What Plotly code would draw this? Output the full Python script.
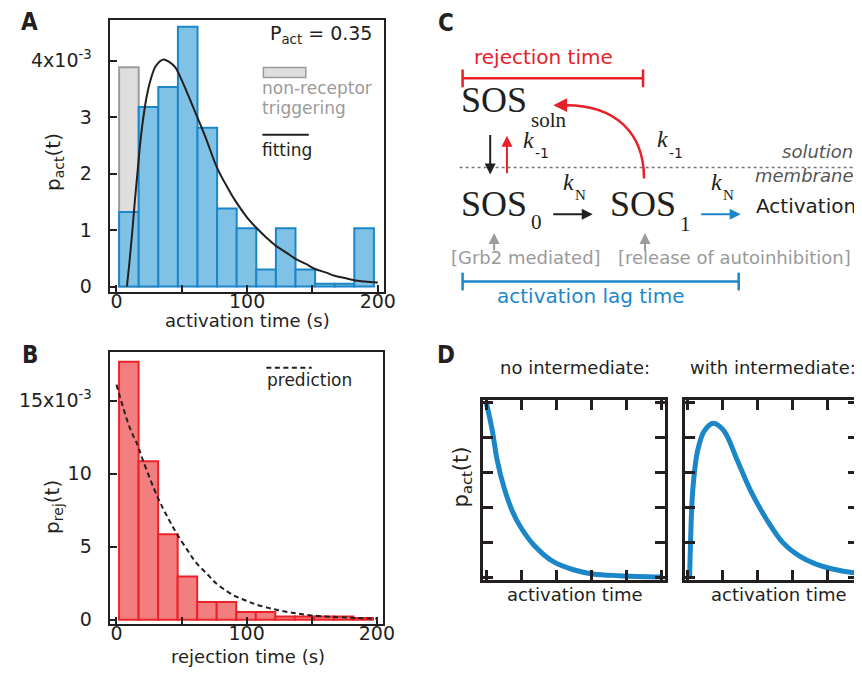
import plotly.graph_objects as go

W, H = 862, 673

# ---------------- data ----------------
# Panel A: activation time histogram (values in units of 1e-3)
bin_width = 15
act_bin_left = [2, 17, 32, 47, 62, 77, 92, 107, 122, 137, 152, 167, 182]
act_density = [1.32, 3.18, 3.53, 4.60, 2.81, 1.38, 1.03, 0.30, 1.03, 0.30, 0.05, 0.05, 1.03]
nonrec_bin_left = [2, 17]
nonrec_density = [3.88, 0.0]
fit_t = [8, 10, 12, 14, 16, 18, 20, 23, 26, 30, 36, 40, 45, 50, 55, 60, 68, 77, 85, 92,
         100, 107, 115, 122, 130, 137, 145, 152, 160, 167, 175, 182, 190, 200]
fit_p = [0.0, 0.45, 0.95, 1.5, 2.0, 2.5, 2.9, 3.35, 3.65, 3.9, 4.02, 3.98, 3.88, 3.65, 3.38,
         3.1, 2.65, 2.1, 1.75, 1.48, 1.22, 1.04, 0.86, 0.72, 0.6, 0.49, 0.4, 0.31, 0.25,
         0.19, 0.15, 0.11, 0.09, 0.07]
a_xticks = [0, 50, 100, 150, 200]
a_xticktext = ["0", "", "100", "", "200"]
a_yticks = [0, 1, 2, 3, 4]
a_yticktext = ["0", "1", "2", "3", "4x10<sup>-3</sup>"]

# Panel B: rejection time histogram (values in units of 1e-3)
rej_bin_left = [2, 17, 32, 47, 62, 77, 92, 107, 122, 137, 152, 167, 182]
rej_density = [17.66, 10.86, 5.86, 2.97, 1.22, 1.22, 0.54, 0.54, 0.22, 0.22, 0.22, 0.22, 0.12]
pred_t = [0, 10, 16.5, 20, 31.6, 40, 46.3, 55, 61.3, 70, 76.5, 85, 91.6, 100, 106.8, 121,
          135, 150, 170, 185, 200]
pred_p = [16.1, 13.2, 11.9, 11.0, 8.4, 6.9, 5.9, 4.7, 3.9, 3.1, 2.5, 1.95, 1.6, 1.3, 1.06,
          0.72, 0.48, 0.3, 0.18, 0.12, 0.08]
b_xticks = [0, 50, 100, 150, 200]
b_xticktext = ["0", "", "100", "", "200"]
b_yticks = [0, 5, 10, 15]
b_yticktext = ["0", "5", "10", "15x10<sup>-3</sup>"]

# Panel D: schematic distributions
noint_t = [0, 0.17, 0.31, 0.5, 0.73, 0.97, 1.35, 1.91, 2.48, 3.04, 3.79, 5.0]
noint_p = [5.0, 4.19, 3.34, 2.58, 1.92, 1.45, 0.93, 0.45, 0.22, 0.10, 0.05, 0.01]
withint_t = [0.05, 0.07, 0.14, 0.28, 0.47, 0.73, 1.03, 1.41, 1.78, 2.25, 2.72, 3.19, 3.66,
             4.13, 4.84, 5.0]
withint_p = [0.0, 0.8, 2.51, 3.64, 4.2, 4.42, 4.2, 3.36, 2.51, 1.66, 0.99, 0.61, 0.38,
             0.24, 0.12, 0.11]

# ---------------- styles ----------------
SANS = "DejaVu Sans"
SERIF = "Liberation Serif"
INK = "#231f20"
BLUE_FILL = "#7fc2e5"
BLUE_LINE = "#1d86c8"
BLUE = "#1b87c9"
RED_FILL = "#f27e80"
RED_LINE = "#ec2229"
RED = "#e8202a"
GRAY_FILL = "#dedede"
GRAY_LINE = "#9c9c9c"
GRAY_TXT = "#9a9a9a"
DASH = "5px,3.5px"


def px(x):
    return x / W


def py(y):
    return 1 - y / H


fig = go.Figure()

# Panel A traces
fig.add_trace(go.Bar(x=[l + bin_width / 2 for l in nonrec_bin_left], y=nonrec_density,
                     width=bin_width, marker=dict(color=GRAY_FILL, line=dict(color=GRAY_LINE, width=2)),
                     xaxis="x", yaxis="y", showlegend=False))
fig.add_trace(go.Bar(x=[l + bin_width / 2 for l in act_bin_left], y=act_density,
                     width=bin_width, marker=dict(color=BLUE_FILL, line=dict(color=BLUE_LINE, width=2)),
                     xaxis="x", yaxis="y", showlegend=False))
fig.add_trace(go.Scatter(x=fit_t, y=fit_p, mode="lines", line=dict(color=INK, width=2, shape="spline"),
                         xaxis="x", yaxis="y", showlegend=False))

# Panel B traces
fig.add_trace(go.Bar(x=[l + bin_width / 2 for l in rej_bin_left], y=rej_density,
                     width=bin_width, marker=dict(color=RED_FILL, line=dict(color=RED_LINE, width=2)),
                     xaxis="x2", yaxis="y2", showlegend=False))
fig.add_trace(go.Scatter(x=pred_t, y=pred_p, mode="lines",
                         line=dict(color=INK, width=2, dash=DASH, shape="spline"),
                         xaxis="x2", yaxis="y2", showlegend=False))

# Panel D traces
fig.add_trace(go.Scatter(x=noint_t, y=noint_p, mode="lines", line=dict(color=BLUE, width=5, shape="spline"),
                         xaxis="x3", yaxis="y3", showlegend=False))
fig.add_trace(go.Scatter(x=withint_t, y=withint_p, mode="lines", line=dict(color=BLUE, width=5, shape="spline"),
                         xaxis="x4", yaxis="y4", showlegend=False))

tickfont = dict(family=SANS, size=19, color=INK)
common = dict(showgrid=False, zeroline=False, showline=True, linecolor=INK, linewidth=2,
              mirror=True, ticks="inside", tickcolor=INK, tickwidth=2, ticklen=7,
              tickfont=tickfont)

fig.update_layout(
    width=W, height=H, margin=dict(l=0, r=0, t=0, b=0),
    paper_bgcolor="white", plot_bgcolor="white", barmode="overlay",
    xaxis=dict(domain=[px(103), px(381)], range=[-5.3, 204.5], anchor="y",
               tickvals=a_xticks, ticktext=a_xticktext, ticklabelstandoff=-9, **common),
    yaxis=dict(domain=[py(287), py(12)], range=[-0.105, 4.72], anchor="x",
               tickvals=a_yticks, ticktext=a_yticktext, ticklabelstandoff=12, **common),
    xaxis2=dict(domain=[px(103), px(380)], range=[-5.3, 204.5], anchor="y2",
                tickvals=b_xticks, ticktext=b_xticktext, ticklabelstandoff=-9, **common),
    yaxis2=dict(domain=[py(622), py(347)], range=[-0.32, 18.34], anchor="x2",
                tickvals=b_yticks, ticktext=b_yticktext, ticklabelstandoff=12, **common),
)

dcommon = dict(showgrid=False, zeroline=False, showline=True, linecolor=INK, linewidth=2.5,
               mirror="ticks", ticks="inside", tickcolor=INK, tickwidth=2.5, ticklen=10,
               showticklabels=False, tickvals=[0, 1, 2, 3, 4, 5])
fig.update_layout(
    xaxis3=dict(domain=[px(482), px(666)], range=[-0.09, 5.09], anchor="y3", **dcommon),
    yaxis3=dict(domain=[py(577), py(396)], range=[-0.07, 5.07], anchor="x3", **dcommon),
    xaxis4=dict(domain=[px(687), 1.0], range=[-0.07, 4.86], anchor="y4", **dcommon),
    yaxis4=dict(domain=[py(577), py(396)], range=[-0.07, 5.07], anchor="x4", **dcommon),
)

annotations = []
shapes = []


def text(x, y, s, size=18, color=INK, family=SANS, xanchor="center", angle=0, bold=False, italic=False):
    if bold:
        s = "<b>" + s + "</b>"
    if italic:
        s = "<i>" + s + "</i>"
    if angle == 0:
        y = y - (0.2 if family == SERIF else 0.3) * size
    annotations.append(dict(x=px(x), y=py(y), xref="paper", yref="paper", text=s, showarrow=False,
                            xanchor=xanchor, yanchor="middle", textangle=angle,
                            font=dict(family=family, size=size, color=color)))


def line(x0, y0, x1, y1, color=INK, width=2, dash="solid"):
    shapes.append(dict(type="line", xref="paper", yref="paper", x0=px(x0), y0=py(y0),
                       x1=px(x1), y1=py(y1), line=dict(color=color, width=width, dash=dash)))


def arrow(x0, y0, x1, y1, color=INK, width=2):
    annotations.append(dict(x=px(x1), y=py(y1), xref="paper", yref="paper", ax=x0 - x1, ay=y0 - y1,
                            axref="pixel", ayref="pixel", text="", showarrow=True, arrowhead=2,
                            arrowsize=1.1, arrowwidth=width, arrowcolor=color))


# panel letters
LBL = "Liberation Sans Narrow, DejaVu Sans Condensed, Arial"
text(22, 21, "A", size=24, family=LBL, bold=True)
text(22, 357, "B", size=24, family=LBL, bold=True)
text(444, 22, "C", size=24, family=LBL, bold=True)
text(444, 357, "D", size=24, family=LBL, bold=True)

# Panel A labels & legend
text(46, 155, "p<sub>act</sub>(t)", size=20, angle=-90)
text(243, 321, "activation time (s)", size=18)
text(371, 32, "P<sub>act</sub> = 0.35", size=19, xanchor="right")
shapes.append(dict(type="rect", xref="paper", yref="paper", x0=px(259), x1=px(302), y0=py(70), y1=py(60),
                   fillcolor=GRAY_FILL, line=dict(color=GRAY_LINE, width=1.5)))
text(256, 86, "non-receptor", size=17, color=GRAY_TXT, xanchor="left")
text(256, 106, "triggering", size=17, color=GRAY_TXT, xanchor="left")
line(258, 128, 305, 128, width=2)
text(256, 148, "fitting", size=17, xanchor="left")

# Panel B labels & legend
text(45, 503, "p<sub>rej</sub>(t)", size=20, angle=-90)
text(243, 660, "rejection time (s)", size=18)
line(262, 363, 308, 363, width=2, dash=DASH)
text(261, 380, "prediction", size=17, xanchor="left")

# Panel C diagram
text(543, 55, "rejection time", size=20, color=RED)
line(461, 71, 644, 71, color=RED, width=2.5)
line(461, 62, 461, 80, color=RED, width=2.5)
line(644, 62, 644, 80, color=RED, width=2.5)

text(457, 100, "SOS", size=36, family=SERIF, xanchor="left")
text(528, 117, "soln", size=21, family=SERIF, xanchor="left")
text(457, 205, "SOS", size=36, family=SERIF, xanchor="left")
text(528, 220, "0", size=21, family=SERIF, xanchor="left")
text(608, 205, "SOS", size=36, family=SERIF, xanchor="left")
text(679, 222, "1", size=21, family=SERIF, xanchor="left")

arrow(489, 127, 489, 168, color=INK, width=2)
arrow(506, 168, 506, 129, color=RED, width=2)
text(520, 138, "k", size=24, family=SERIF, xanchor="left", italic=True)
text(532, 151, "-1", size=14, xanchor="left")

shapes.append(dict(type="path", xref="paper", yref="paper",
                   path="M %f,%f C %f,%f %f,%f %f,%f" % (px(645), py(172), px(645), py(125),
                                                       px(615), py(98), px(566), py(98)),
                   line=dict(color=RED, width=2.5)))
arrow(570, 98, 553, 98, color=RED, width=2.5)
text(656, 137, "k", size=24, family=SERIF, xanchor="left", italic=True)
text(668, 151, "-1", size=14, xanchor="left")

line(458, 161, 862, 161, color="#777777", width=1.5, dash="dot")
text(859, 150, "solution", size=18, color="#555555", xanchor="right", italic=True)
text(859, 174, "membrane", size=18, color="#555555", xanchor="right", italic=True)

text(561, 180, "k", size=24, family=SERIF, xanchor="left", italic=True)
text(573, 192, "N", size=15, family=SERIF, xanchor="left")
arrow(552, 208, 593, 208, color=INK, width=2)
text(711, 180, "k", size=24, family=SERIF, xanchor="left", italic=True)
text(723, 192, "N", size=15, family=SERIF, xanchor="left")
arrow(702, 208, 743, 208, color=BLUE, width=2)
text(757, 206, "Activation", size=20, xanchor="left")

arrow(493, 246, 493, 227, color=GRAY_LINE, width=2)
arrow(646, 246, 646, 227, color=GRAY_LINE, width=2)
text(525, 257, "[Grb2 mediated]", size=18, color=GRAY_TXT)
text(737, 257, "[release of autoinhibition]", size=18, color=GRAY_TXT)

line(461, 276, 741, 276, color=BLUE, width=2.5)
line(461, 267, 461, 285, color=BLUE, width=2.5)
line(741, 267, 741, 285, color=BLUE, width=2.5)
text(591, 297, "activation lag time", size=20, color=BLUE)

# Panel D labels
text(575, 368, "no intermediate:", size=18)
text(862, 368, "with intermediate:", size=18, xanchor="right")
text(460, 473, "p<sub>act</sub>(t)", size=21, angle=-90)
text(575, 597, "activation time", size=18)
text(782, 597, "activation time", size=18)

fig.update_layout(annotations=annotations, shapes=shapes)
fig.write_html("out.html")
